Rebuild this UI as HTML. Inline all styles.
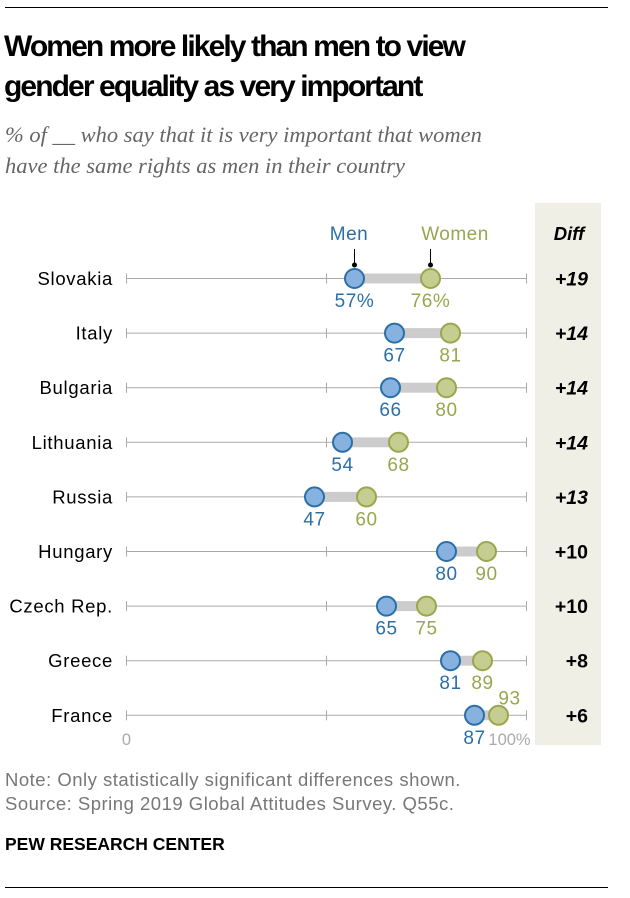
<!DOCTYPE html>
<html><head><meta charset="utf-8"><style>
body{margin:0;background:#fff;font-family:"Liberation Sans",sans-serif;}
#wrap{position:relative;width:630px;height:898px;}
.t{position:absolute;}
</style></head><body>
<div id="wrap">
<div class="t" style="left:5px;top:7px;width:603px;height:1px;background:#000"></div>
<div class="t" style="left:4px;top:27px;font-size:30px;font-weight:bold;line-height:40px;color:#000;letter-spacing:-1.9px">Women more likely than men to view<br>gender equality as very important</div>
<div class="t" style="left:5px;top:119px;font-family:'Liberation Serif',serif;font-size:22.5px;font-style:italic;line-height:31px;color:#666">% of __ who say that it is very important that women<br>have the same rights as men in their country</div>
<div class="t" style="left:535px;top:203px;width:66px;height:542px;background:#efefe6"></div>
<svg class="t" style="left:0;top:0" width="630" height="898" id="svg"></svg>
<div class="t" style="left:5px;top:768px;font-size:18.5px;letter-spacing:0.5px;line-height:24px;color:#777">Note: Only statistically significant differences shown.<br>Source: Spring 2019 Global Attitudes Survey. Q55c.</div>
<div class="t" style="left:5px;top:834px;font-size:17.5px;font-weight:bold;color:#000">PEW RESEARCH CENTER</div>
<div class="t" style="left:5px;top:887px;width:603px;height:1px;background:#000"></div>
</div>
<script>
const countries=["Slovakia","Italy","Bulgaria","Lithuania","Russia","Hungary","Czech Rep.","Greece","France"];
const men=[57,67,66,54,47,80,65,81,87];
const women=[76,81,80,68,60,90,75,89,93];
const diffs=["+19","+14","+14","+14","+13","+10","+10","+8","+6"];
const ticks=[0,50,100];
const NS="http://www.w3.org/2000/svg";
const svg=document.getElementById('svg');
const x=v=>126.5+v*4;
const y=i=>278.5+i*54.6;
function mk(t,a,txt){const e=document.createElementNS(NS,t);for(const k in a)e.setAttribute(k,a[k]);if(txt!=null)e.textContent=txt;svg.appendChild(e);return e;}
const F='Liberation Sans';
let e;
e=mk('text',{x:349,y:240,'font-size':19,fill:'#2a6fa8','text-anchor':'middle','font-family':F,'letter-spacing':0.5},'Men');


e=mk('text',{x:455,y:240,'font-size':19,fill:'#9aa64e','text-anchor':'middle','font-family':F,'letter-spacing':0.5},'Women');


e=mk('text',{x:569,y:240,'font-size':18.5,'font-weight':'bold','font-style':'italic','text-anchor':'middle','font-family':F},'Diff');


mk('line',{x1:x(57),y1:249,x2:x(57),y2:265,stroke:'#000','stroke-width':1});
mk('line',{x1:x(76),y1:249,x2:x(76),y2:265,stroke:'#000','stroke-width':1});
countries.forEach((c,i)=>{
 const yy=y(i);
 e=mk('text',{x:113,y:yy+6.5,'font-size':18.5,'letter-spacing':0.7,'text-anchor':'end','font-family':F},c);
 
 
 e=mk('line',{x1:x(0),y1:yy,x2:x(100),y2:yy,stroke:'#aaa','stroke-width':1});
 
 
 ticks.forEach(t=>mk('line',{x1:x(t),y1:yy-5,x2:x(t),y2:yy+5,stroke:'#aaa','stroke-width':1}));
 e=mk('rect',{x:x(men[i]),y:yy-5,width:x(women[i])-x(men[i]),height:10,fill:'#ccc'});
 
 
 e=mk('circle',{cx:x(men[i]),cy:yy,r:9.5,fill:'#87b2df',stroke:'#2a6fa8','stroke-width':2});
 
 
 e=mk('circle',{cx:x(women[i]),cy:yy,r:9.5,fill:'#c6cd90',stroke:'#9aa64e','stroke-width':2});
 
 
 const last=i===countries.length-1;
 e=mk('text',{x:x(men[i]),y:yy+28.5,'font-size':19,'letter-spacing':0.6,fill:'#2a6fa8','text-anchor':'middle','font-family':F},men[i]+(i===0?'%':''));
 
 
 e=mk('text',{x:last?x(women[i])+11:x(women[i]),y:last?yy-11:yy+28.5,'font-size':19,'letter-spacing':0.6,fill:'#9aa64e','text-anchor':'middle','font-family':F},women[i]+(i===0?'%':''));
 
 
 e=mk('text',{x:588,y:yy+7,'font-size':19.5,'font-weight':'bold','font-style':i<5?'italic':'normal','text-anchor':'end','font-family':F},diffs[i]);
 
 
});
mk('circle',{cx:x(57),cy:265,r:2.5,fill:'#000'});
mk('circle',{cx:x(76),cy:265,r:2.5,fill:'#000'});
e=mk('text',{x:x(0),y:745,'font-size':16.5,fill:'#aaa','text-anchor':'middle','font-family':F},'0');


e=mk('text',{x:x(100)-17,y:745,'font-size':16.5,fill:'#aaa','text-anchor':'middle','font-family':F},'100%');


</script>
</body></html>
